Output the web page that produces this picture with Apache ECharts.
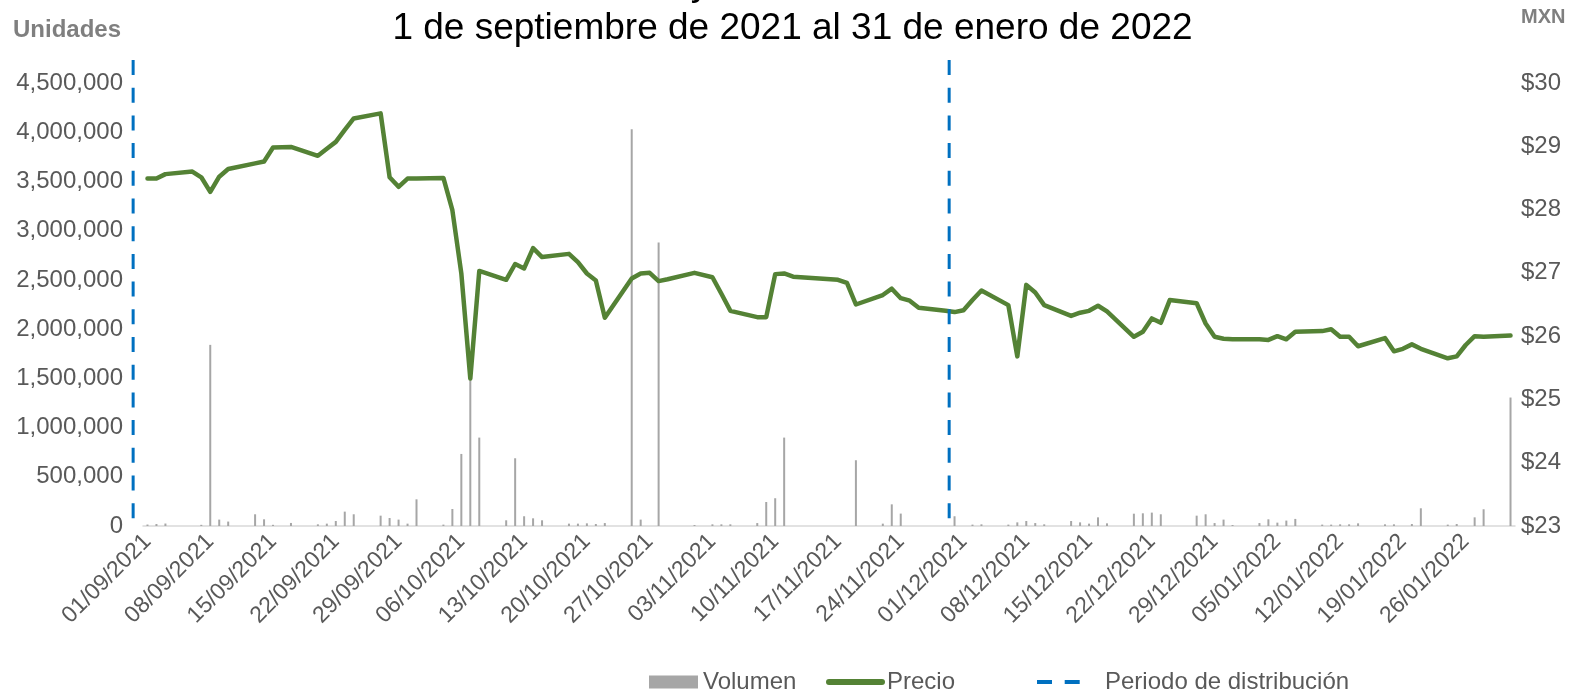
<!DOCTYPE html>
<html>
<head>
<meta charset="utf-8">
<script src="https://cdn.jsdelivr.net/npm/echarts@6/dist/echarts.min.js"></script>
<style>
  html, body { margin: 0; padding: 0; background: #fff; }
  #grafica { width: 1585px; height: 695px; }
</style>
</head>
<body>
<div id="grafica"></div>
<script>
  // precio de cierre (MXN) por día natural, null = sin operación
  const precioSep = [28.49, 28.49, 28.56, null, null, 28.60, 28.51, 28.28, 28.52, 28.64, null, null, 28.73, 28.76, 28.98,
    null, 28.99, null, null, 28.85, 28.96, 29.07, 29.26, 29.44, null, null, 29.52, 28.51, 28.36, 28.49];
  const precioOct = [28.49, null, null, 28.50, 27.99, 26.99, 25.33, 27.03, null, null, 26.89, 27.14, 27.07, 27.39, 27.25,
    null, null, 27.30, 27.17, 26.99, 26.88, 26.29, null, null, 26.91, 26.99, 27.00, 26.87, 26.90, null, null];
  const precioNov = [27.00, null, 26.93, 26.67, 26.40, null, null, 26.30, 26.30, 26.98, 26.99, 26.94, null, null, null,
    null, 26.89, 26.84, 26.50, null, null, 26.65, 26.75, 26.60, 26.56, 26.45, null, null, 26.40, 26.38];
  const precioDic = [26.41, 26.57, 26.72, null, null, 26.49, 25.68, 26.81, 26.69, 26.49, null, null, 26.32, 26.37, 26.40,
    26.48, 26.39, null, null, 25.99, 26.07, 26.28, 26.21, 26.57, null, null, 26.52, 26.20, 25.99, 25.96, 25.95];
  const precioEne = [null, null, 25.95, 25.94, 26.00, 25.95, 26.07, null, null, 26.08, 26.11, 25.99, 25.99, 25.84, null,
    null, 25.97, 25.76, 25.80, 25.87, 25.80, null, null, 25.65, 25.68, 25.86, 26.00, 25.99, null, null, 26.01];

  // volumen operado (unidades)
  const volSep = [15000, 20000, 25000, 0, 0, 0, 12000, 1840000, 65000, 45000, 0, 0, 119000, 68000, 12000,
    0, 31000, 0, 0, 17000, 24000, 51000, 146000, 119000, 0, 0, 105000, 81000, 65000, 24000];
  const volOct = [271000, 0, 0, 14000, 173000, 732000, 1520000, 898000, 0, 0, 58000, 688000, 99000, 78000, 58000,
    0, 0, 24000, 24000, 27000, 20000, 30000, 0, 0, 4030000, 65000, 0, 2880000, 0, 0, 0];
  const volNov = [10000, 0, 17000, 17000, 17000, 0, 0, 30000, 244000, 282000, 898000, 0, 0, 0, 0,
    0, 0, 0, 668000, 0, 0, 24000, 220000, 126000, 0, 0, 0, 0, 0, 99000];
  const volDic = [0, 14000, 17000, 0, 0, 14000, 37000, 51000, 30000, 17000, 0, 0, 51000, 37000, 24000,
    88000, 27000, 0, 0, 125000, 129000, 136000, 119000, 0, 0, 0, 105000, 119000, 30000, 65000, 10000];
  const volEne = [0, 0, 30000, 68000, 34000, 55000, 72000, 0, 0, 14000, 14000, 17000, 17000, 27000, 0,
    0, 17000, 17000, 0, 20000, 180000, 0, 0, 14000, 20000, 0, 88000, 170000, 0, 0, 1305000];

  // periodo de distribución, en días desde el 01/09/2021
  const periodoDistribucion = [-1.1, 89.9];

  const precio = [].concat(precioSep, precioOct, precioNov, precioDic, precioEne);
  const volumen = [].concat(volSep, volOct, volNov, volDic, volEne);

  const fechas = [];
  const inicio = Date.UTC(2021, 8, 1);
  for (let i = 0; i < precio.length; i++) {
    const d = new Date(inicio + i * 86400000);
    const dd = String(d.getUTCDate()).padStart(2, '0');
    const mm = String(d.getUTCMonth() + 1).padStart(2, '0');
    fechas.push(dd + '/' + mm + '/' + d.getUTCFullYear());
  }

  const fuente = '"Liberation Sans", Arial, sans-serif';
  const gris = '#595959';
  const verde = '#548235';
  const azul = '#0070c0';

  // la rejilla de las líneas punteadas arranca 2 días antes para poder dibujar la del 31/08
  const gridIzq = 143, gridDer = 70;
  const anchoDia = (1585 - gridIzq - gridDer) / precio.length;
  const diasAntes = 2;

  const chart = echarts.init(document.getElementById('grafica'));

  const seriesPeriodo = periodoDistribucion.map(function (x) {
    return {
      name: 'Periodo de distribución',
      type: 'line',
      xAxisIndex: 1,
      yAxisIndex: 2,
      data: [[x, 1], [x, 0]],
      symbol: 'none',
      z: 5,
      itemStyle: { color: azul },
      lineStyle: { color: azul, width: 3, type: [15, 12.7] }
    };
  });

  const option = {
    animation: false,
    textStyle: { fontFamily: fuente },
    title: {
      text: 'Precio y volumen del título\n1 de septiembre de 2021 al 31 de enero de 2022',
      left: 'center',
      top: -37,
      padding: 0,
      textStyle: { fontFamily: fuente, fontSize: 37, lineHeight: 44, fontWeight: 'normal', color: '#000' }
    },
    legend: [
      {
        data: ['Volumen'], left: 649, top: 670, padding: 0,
        icon: 'rect', itemWidth: 49, itemHeight: 13,
        textStyle: { fontFamily: fuente, fontSize: 24, color: gris }
      },
      {
        data: ['Precio'], left: 826, top: 670, padding: 0,
        itemWidth: 53, itemHeight: 14,
        itemStyle: { opacity: 0 },
        lineStyle: { color: verde, width: 6, cap: 'round' },
        textStyle: { fontFamily: fuente, fontSize: 24, color: gris }
      },
      {
        data: ['Periodo de distribución'], left: 1035, top: 670, padding: 0,
        itemWidth: 43, itemHeight: 14,
        itemStyle: { opacity: 0 },
        lineStyle: { color: azul, width: 4, type: [15, 12.7] },
        textStyle: { fontFamily: fuente, fontSize: 24, color: gris, padding: [0, 0, 0, 20] }
      }
    ],
    grid: [
      { left: gridIzq, right: gridDer, top: 83, bottom: 169 },
      { left: gridIzq - diasAntes * anchoDia, right: gridDer, top: 60, bottom: 169 }
    ],
    xAxis: [
      {
        type: 'category',
        gridIndex: 0,
        data: fechas,
        boundaryGap: true,
        axisLine: { lineStyle: { color: '#d9d9d9', width: 1.5 } },
        axisTick: { interval: 6, length: 6, lineStyle: { color: '#d9d9d9', width: 1.5 } },
        axisLabel: { interval: 6, rotate: 45, fontSize: 23, color: gris, margin: 12, fontFamily: fuente }
      },
      { type: 'value', gridIndex: 1, min: -diasAntes, max: precio.length, show: false }
    ],
    yAxis: [
      {
        type: 'value', gridIndex: 0, min: 0, max: 4500000, interval: 500000,
        name: 'Unidades', nameLocation: 'end', nameGap: 53,
        nameTextStyle: { fontFamily: fuente, fontSize: 24, fontWeight: 'bold', color: '#7f7f7f',
          align: 'right', verticalAlign: 'middle', padding: [0, 22, 0, 0] },
        axisLine: { show: false }, axisTick: { show: false }, splitLine: { show: false },
        axisLabel: {
          fontSize: 24, color: gris, margin: 20, fontFamily: fuente,
          formatter: function (v) { return v.toLocaleString('en-US'); }
        }
      },
      {
        type: 'value', gridIndex: 0, min: 23, max: 30, interval: 1, position: 'right',
        name: 'MXN', nameLocation: 'end', nameGap: 66,
        nameTextStyle: { fontFamily: fuente, fontSize: 20, fontWeight: 'bold', color: '#7f7f7f',
          align: 'left', verticalAlign: 'middle', padding: [0, 0, 0, 6] },
        axisLine: { show: false }, axisTick: { show: false }, splitLine: { show: false },
        axisLabel: { fontSize: 24, color: gris, margin: 6, fontFamily: fuente, formatter: '${value}' }
      },
      { type: 'value', gridIndex: 1, min: 0, max: 1, show: false }
    ],
    series: [
      {
        name: 'Volumen',
        type: 'bar',
        data: volumen,
        barWidth: 2,
        itemStyle: { color: '#a6a6a6' }
      },
      {
        name: 'Precio',
        type: 'line',
        yAxisIndex: 1,
        data: precio,
        connectNulls: true,
        symbol: 'none',
        z: 3,
        itemStyle: { color: verde },
        lineStyle: { color: verde, width: 4.5, cap: 'round', join: 'round' }
      }
    ].concat(seriesPeriodo)
  };

  chart.setOption(option);
</script>
</body>
</html>
